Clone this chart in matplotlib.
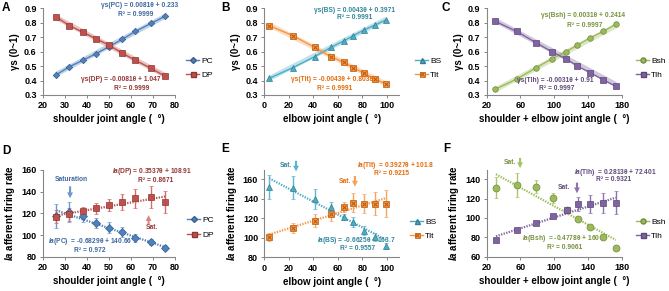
import numpy as np
import matplotlib
matplotlib.use("Agg")
import matplotlib.pyplot as plt
from matplotlib.lines import Line2D
from matplotlib.legend_handler import HandlerTuple

plt.rcParams['font.family'] = ['Liberation Sans', 'DejaVu Sans']
plt.rcParams['mathtext.fontset'] = 'custom'
plt.rcParams['mathtext.it'] = 'Liberation Sans:italic:bold'
plt.rcParams['mathtext.rm'] = 'Liberation Sans'

# ---------------- data ----------------
# A: shoulder joint angle vs gamma-s
sh_angle = [26, 32, 38, 44, 50, 56, 62, 69, 75.5]
gs_pc = [0.44, 0.495, 0.54, 0.585, 0.635, 0.685, 0.74, 0.795, 0.845]
gs_dp = [0.84, 0.78, 0.735, 0.69, 0.645, 0.59, 0.54, 0.485, 0.43]

# B: elbow joint angle vs gamma-s
el_angle = [4, 23.5, 41, 54.5, 65, 72.5, 81.5, 90.5, 99.5]
gs_bs = [0.415, 0.49, 0.565, 0.63, 0.675, 0.71, 0.75, 0.785, 0.82]
gs_tlt = [0.78, 0.71, 0.63, 0.565, 0.525, 0.49, 0.45, 0.41, 0.375]

# C: shoulder + elbow joint angle vs gamma-s
se_angle = [30, 55.5, 79, 97, 114, 127.5, 142.5, 158, 173]
gs_bsh = [0.34, 0.41, 0.49, 0.55, 0.6, 0.645, 0.695, 0.74, 0.79]
gs_tlh = [0.81, 0.74, 0.66, 0.6, 0.55, 0.5, 0.455, 0.405, 0.36]

# D: Ia afferent firing rate, shoulder
ia_pc = [118, 121.5, 117.5, 111, 107, 103, 97.5, 94, 88.6]
ia_pc_err = [11, 9, 5, 4.5, 5, 5, 4, 3, 2]
ia_dp = [117, 119.4, 122, 124.6, 127.7, 130.8, 133.8, 135.4, 130.8]
ia_dp_err = [6, 6, 4, 5, 5.5, 7.5, 9, 10, 10]

# E: Ia afferent firing rate, elbow
ia_bs = [152, 151.4, 140, 131.5, 121, 116, 107.4, 101, 92]
ia_bs_err = [12.5, 12, 10, 5, 3, 5, 5, 4, 3]
ia_tlt = [101, 110, 117.7, 124.6, 131.5, 136, 135, 135, 135]
ia_tlt_err = [4, 5.5, 7, 7.5, 5, 10, 10, 12, 14]

# F: Ia afferent firing rate, shoulder + elbow
se_angle_f = [31, 56, 79, 98, 115, 128, 143, 158, 173]
ia_bsh = [131.5, 134.5, 132.5, 120.5, 108, 99, 90.2, 80.5, 68.5]
ia_bsh_err = [11, 12.5, 7, 5, 2, 1.5, 1.5, 1.5, 1.5]
ia_tlh = [77, 87.4, 95.3, 101.8, 108.5, 114.5, 114.5, 115.5, 115.8]
ia_tlh_err = [2, 2, 2, 2, 3, 7, 9, 10, 12]

# trendline coefficients (slope, intercept) as printed on the chart
fit_pc, fit_dp = (0.0081, 0.233), (-0.0081, 1.047)
fit_bs, fit_tlt = (0.0043, 0.3971), (-0.0043, 0.8038)
fit_bsh, fit_tlh = (0.0031, 0.2414), (-0.0031, 0.91)
fit_ia_pc, fit_ia_dp = (-0.6829, 140.66), (0.3537, 108.91)
fit_ia_bs, fit_ia_tlt = (-0.6625, 163.7), (0.3927, 101.8)
fit_ia_bsh, fit_ia_tlh = (-0.4778, 160), (0.2813, 72.401)

# colours (Excel 2007 palette)
BLUE, BLUE_E, BLUE_T = '#4F81BD', '#385D8A', '#3F67A0'
RED, RED_E, RED_T = '#C0504D', '#8C3836', '#943634'
TEAL, TEAL_E, TEAL_T = '#4BACC6', '#357D91', '#31859C'
ORNG, ORNG_E, ORNG_T = '#F79646', '#B65708', '#E46C0A'
GRN, GRN_E, GRN_T = '#9BBB59', '#71893F', '#76923C'
PURP, PURP_E, PURP_T = '#8064A2', '#5C4776', '#5F497A'
AXC = '#868686'

W, H = 669, 291
fig = plt.figure(figsize=(W / 100, H / 100), dpi=100)


def px_ax(l, r, t, b):
    return fig.add_axes([l / W, 1 - b / H, (r - l) / W, (b - t) / H])


def style(ax, xlim, ylim, xticks, yticks, xlabel, ylabel, ylab_fmt=None):
    ax.set_xlim(*xlim)
    ax.set_ylim(*ylim)
    ax.set_xticks(xticks)
    ax.set_yticks(yticks)
    for s in ['top', 'right']:
        ax.spines[s].set_visible(False)
    for s in ['left', 'bottom']:
        ax.spines[s].set_color(AXC)
        ax.spines[s].set_linewidth(0.8)
    ax.tick_params(length=2.5, width=0.7, color=AXC, labelsize=6.5, pad=2)
    for lab in ax.get_xticklabels() + ax.get_yticklabels():
        lab.set_fontweight('bold')
    if ylab_fmt:
        ax.set_yticklabels([ylab_fmt.format(v) for v in yticks], fontweight='bold')
    ax.set_xlabel(xlabel, fontsize=7, fontweight='bold', labelpad=3)
    ax.set_ylabel(ylabel, fontsize=7, fontweight='bold', labelpad=3)


def trend(ax, xs, fit, color, top=True):
    xx = np.array([min(xs), max(xs)])
    yy = fit[0] * xx + fit[1]
    if top:
        ax.plot(xx, yy, color=color, lw=3.5, alpha=0.35, zorder=1, solid_capstyle='butt')
    else:
        ax.plot(xx, yy, color=color, lw=1.6, ls=(0, (0.6, 0.6)), zorder=1)


def legend(handles, labels, x, y):
    fig.legend(handles, labels, loc='center left', bbox_to_anchor=(x / W, 1 - y / H),
               frameon=False, fontsize=6, handlelength=1.6, handletextpad=0.2,
               labelspacing=0.8, borderpad=0, borderaxespad=0,
               handler_map={tuple: HandlerTuple(ndivide=1)})


def eq(ax, x, y, s, color):
    ax.text(x, y, s, fontsize=4.8, color=color, fontweight='bold', ha='center', va='center',
            clip_on=False)


def arrow(ax, x, y0, y1, color):
    ax.annotate('', xy=(x, y1), xytext=(x, y0), annotation_clip=False,
                arrowprops=dict(arrowstyle='simple,head_width=0.6,head_length=0.6,tail_width=0.22',
                                color=color, lw=0, alpha=0.9, shrinkA=0, shrinkB=0,
                                mutation_scale=7))


def h(color, edge, marker, ms=3.5, ls='-'):
    return Line2D([], [], color=color, marker=marker, mfc=color, mec=edge, ms=ms, lw=1, ls=ls)


def tlt_handle(ms):
    return (Line2D([], [], color=ORNG, marker='s', mfc=ORNG, mec=ORNG_E, ms=ms, lw=1, mew=0.5),
            Line2D([], [], color=ORNG, marker='x', mec=ORNG_E, ms=ms * 0.7, lw=0, mew=0.7))


GAM = 'γs (0~1)'
IA = r'$\mathit{Ia}$ afferent firing rate'

# ---------------- A ----------------
axA = px_ax(43, 175, 8.3, 95)
trend(axA, sh_angle, fit_pc, BLUE)
trend(axA, sh_angle, fit_dp, RED)
axA.plot(sh_angle, gs_pc, color=BLUE, marker='D', ms=3.3, mec=BLUE_E, mew=0.5, lw=1, zorder=3)
axA.plot(sh_angle, gs_dp, color=RED, marker='s', ms=4, mec=RED_E, mew=0.5, lw=1, zorder=3)
style(axA, (20, 80), (0.3, 0.9), range(20, 81, 10), [0.3, 0.4, 0.5, 0.6, 0.7, 0.8, 0.9],
      'shoulder joint angle (  °)', GAM, '{:.1f}')
eq(axA, 64, 0.916, 'γs(PC) = 0.0081θ + 0.233', BLUE_T)
eq(axA, 62.3, 0.854, 'R² = 0.9999', BLUE_T)
eq(axA, 55.5, 0.404, 'γs(DP) = -0.0081θ + 1.047', RED_T)
eq(axA, 60.2, 0.342, 'R² = 0.9999', RED_T)
legend([h(BLUE, BLUE_E, 'D', 3), h(RED, RED_E, 's', 3.6)], ['PC', 'DP'], 186, 68)

# ---------------- B ----------------
axB = px_ax(264.3, 399, 8.3, 95)
trend(axB, el_angle, fit_bs, TEAL)
trend(axB, el_angle, fit_tlt, ORNG)
axB.plot(el_angle, gs_bs, color=TEAL, marker='^', ms=4, mec=TEAL_E, mew=0.5, lw=1, zorder=3)
axB.plot(el_angle, gs_tlt, color=ORNG, marker='s', ms=4, mec=ORNG_E, mew=0.5, lw=1, zorder=3)
axB.plot(el_angle, gs_tlt, ls='none', marker='x', ms=2.8, mec=ORNG_E, mew=0.7, zorder=4)
style(axB, (0, 110), (0.3, 0.9), range(0, 101, 20), [0.3, 0.4, 0.5, 0.6, 0.7, 0.8, 0.9],
      'elbow joint angle (  °)', GAM, '{:.1f}')
eq(axB, 73.7, 0.888, 'γs(BS) = 0.0043θ + 0.3971', TEAL_T)
eq(axB, 74, 0.833, 'R² = 0.9991', TEAL_T)
eq(axB, 55.3, 0.404, 'γs(Tlt) = -0.0043θ + 0.8038', ORNG_T)
eq(axB, 57.7, 0.342, 'R² = 0.9991', ORNG_T)
legend([h(TEAL, TEAL_E, '^', 3.6), tlt_handle(3.6)], ['BS', 'Tlt'], 415, 68)

# ---------------- C ----------------
axC = px_ax(486.7, 621.7, 8.3, 95)
trend(axC, se_angle, fit_bsh, GRN)
trend(axC, se_angle, fit_tlh, PURP)
axC.plot(se_angle, gs_bsh, color=GRN, marker='o', ms=4, mec=GRN_E, mew=0.5, lw=1, zorder=3)
axC.plot(se_angle, gs_tlh, color=PURP, marker='s', ms=4, mec=PURP_E, mew=0.5, lw=1, zorder=3)
style(axC, (20, 180), (0.3, 0.9), range(20, 181, 40), [0.3, 0.4, 0.5, 0.6, 0.7, 0.8, 0.9],
      'shoulder + elbow joint angle (  °)', GAM, '{:.1f}')
eq(axC, 134.7, 0.847, 'γs(Bsh) = 0.0031θ + 0.2414', GRN_T)
eq(axC, 135.9, 0.784, 'R² = 0.9997', GRN_T)
eq(axC, 101, 0.397, 'γs(Tlh) = -0.0031θ + 0.91', PURP_T)
eq(axC, 102.4, 0.342, 'R² = 0.9997', PURP_T)
legend([h(GRN, GRN_E, 'o', 3.6), h(PURP, PURP_E, 's', 3.6)], ['Bsh', 'Tlh'], 636, 68)

# ---------------- D ----------------
axD = px_ax(43, 175, 170, 257)
trend(axD, sh_angle, fit_ia_pc, BLUE, top=False)
trend(axD, sh_angle, fit_ia_dp, RED, top=False)
axD.errorbar(sh_angle, ia_pc, yerr=ia_pc_err, fmt='D', color=BLUE, mec=BLUE_E, ms=3.6, mew=0.5,
             ecolor='#6C9AD0', elinewidth=1, capsize=1.5, capthick=0.8, zorder=3)
axD.errorbar(sh_angle, ia_dp, yerr=ia_dp_err, fmt='s', color=RED, mec=RED_E, ms=5, mew=0.5,
             ecolor='#CF6E6B', elinewidth=1, capsize=1.5, capthick=0.8, zorder=3)
style(axD, (20, 80), (80, 160), range(20, 81, 10), range(80, 161, 20),
      'shoulder joint angle (  °)', IA)
eq(axD, 69.5, 158.2, r'$\mathit{Ia}$(DP) = 0.3537θ + 108.91', RED_T)
eq(axD, 71.1, 149.9, 'R² = 0.8671', RED_T)
eq(axD, 41.4, 93.8, r'$\mathit{Ia}$(PC)  = -0.6829θ + 140.66', BLUE_T)
eq(axD, 41.4, 86.4, 'R² = 0.972', BLUE_T)
eq(axD, 32.7, 151.7, 'Saturation', BLUE_T)
eq(axD, 69.5, 106.7, 'Sat.', RED_T)
arrow(axD, 32.3, 145, 134, '#5B8BC8')
arrow(axD, 68, 110, 118.5, '#D77875')
legend([h(BLUE, BLUE_E, 'D', 3), h(RED, RED_E, 's', 3.6)], ['PC', 'DP'], 187, 227.5)

# ---------------- E ----------------
axE = px_ax(264.3, 399, 169.6, 257.3)
trend(axE, el_angle, fit_ia_bs, TEAL, top=False)
trend(axE, el_angle, fit_ia_tlt, ORNG, top=False)
axE.errorbar(el_angle, ia_bs, yerr=ia_bs_err, fmt='^', color=TEAL, mec=TEAL_E, ms=5, mew=0.5,
             ecolor='#5FB6CE', elinewidth=1, capsize=1.5, capthick=0.8, zorder=3)
axE.errorbar(el_angle, ia_tlt, yerr=ia_tlt_err, fmt='s', color=ORNG, mec=ORNG_E, ms=5, mew=0.5,
             ecolor='#F7A460', elinewidth=1, capsize=1.5, capthick=0.8, zorder=3)
axE.plot(el_angle, ia_tlt, ls='none', marker='x', ms=3.4, mec=ORNG_E, mew=0.7, zorder=4)
style(axE, (0, 110), (80, 170), range(0, 101, 20), range(80, 161, 20),
      'elbow joint angle (  °)', IA)
eq(axE, 107.2, 174.7, r'$\mathit{Ia}$(Tlt)  = 0.3927θ + 101.8', ORNG_T)
eq(axE, 103.5, 166.5, 'R² = 0.9215', ORNG_T)
eq(axE, 75.3, 97.7, r'$\mathit{Ia}$(BS) = -0.6625θ + 163.7', TEAL_T)
eq(axE, 76.1, 89.5, 'R² = 0.9557', TEAL_T)
eq(axE, 17.5, 174.2, 'Sat.', TEAL_T)
eq(axE, 65.9, 158.3, 'Sat.', ORNG_T)
arrow(axE, 25.9, 179, 168, '#4BACC6')
arrow(axE, 74, 163.5, 152.5, '#F79646')
legend([h(TEAL, TEAL_E, '^', 3.6), tlt_handle(3.6)], ['BS', 'Tlt'], 410, 229)

# ---------------- F ----------------
axF = px_ax(486.7, 621.7, 169.6, 256.7)
trend(axF, se_angle_f, fit_ia_bsh, GRN, top=False)
trend(axF, se_angle_f, fit_ia_tlh, PURP, top=False)
axF.errorbar(se_angle_f, ia_tlh, yerr=ia_tlh_err, fmt='s', color=PURP, mec=PURP_E, ms=5, mew=0.5,
             ecolor='#8E74AE', elinewidth=1, capsize=1.5, capthick=0.8, zorder=4)
axF.errorbar(se_angle_f, ia_bsh, yerr=ia_bsh_err, fmt='o', color=GRN, mec=GRN_E, ms=5, mew=0.5,
             ecolor='#A9C66E', elinewidth=1, capsize=1.5, capthick=0.8, zorder=3)
style(axF, (20, 180), (60, 150), range(20, 181, 40), range(60, 141, 20),
      'shoulder + elbow joint angle (  °)', IA)
eq(axF, 172.6, 147.5, r'$\mathit{Ia}$(Tlh)  = 0.2813θ + 72.401', PURP_T)
eq(axF, 170.2, 139.3, 'R² = 0.9321', PURP_T)
eq(axF, 108.6, 78.3, r'$\mathit{Ia}$(Bsh)  = -0.4778θ + 160', GRN_T)
eq(axF, 112.8, 69, 'R² = 0.9061', GRN_T)
eq(axF, 47.6, 156.9, 'Sat.', GRN_T)
eq(axF, 111.6, 132, 'Sat.', PURP_T)
arrow(axF, 59.5, 162, 151.5, '#9BBB59')
arrow(axF, 127, 136.5, 125.5, '#8064A2')
legend([h(GRN, GRN_E, 'o', 3.6), h(PURP, PURP_E, 's', 3.6)], ['Bsh', 'Tlh'], 636, 229)

# panel letters
for lab, x, y in [('A', 2, 8), ('B', 221, 8), ('C', 442, 8),
                  ('D', 2, 151), ('E', 221, 149), ('F', 443, 149)]:
    fig.text(x / W, 1 - y / H, lab, fontsize=8.5, fontweight='bold', va='center', ha='left')

fig.savefig('out.png', dpi=100)
